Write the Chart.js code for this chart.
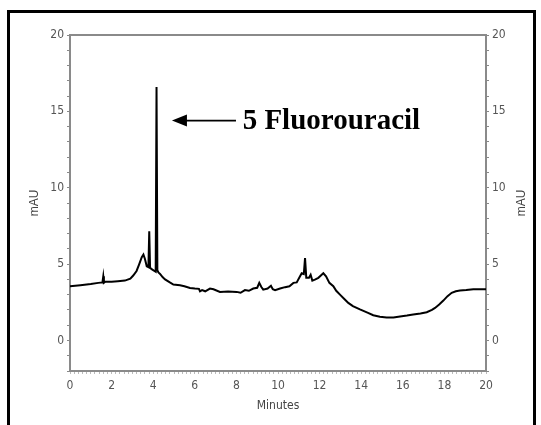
<!DOCTYPE html>
<html>
<head>
<meta charset="utf-8">
<script src="https://cdn.jsdelivr.net/npm/chart.js@4/dist/chart.umd.min.js"></script>
<style>
  html, body { margin: 0; padding: 0; background: #fff; }
  #wrap { position: relative; width: 541px; height: 425px; overflow: hidden; }
  #frame { position: absolute; left: 7px; top: 10px; width: 523px; height: 420px;
           border: 3px solid #000; border-bottom: none; pointer-events: none; }
</style>
</head>
<body>
<div id="wrap">
  <canvas id="c" width="541" height="425"></canvas>
  <div id="frame"></div>
</div>
<script>
// Retention time (minutes)
const times = [
  0.00, 0.50, 1.00, 1.36, 1.56, 1.60, 1.63, 1.70, 2.00, 2.30,
  2.64, 2.90, 3.04, 3.20, 3.32, 3.45, 3.53, 3.60, 3.69, 3.77,
  3.81, 3.85, 3.96, 4.12, 4.16, 4.20, 4.25, 4.33, 4.45,
  4.57, 4.80, 4.97, 5.29, 5.50, 5.77, 6.00, 6.20, 6.25, 6.35,
  6.50, 6.73, 6.90, 7.21, 7.60, 8.01, 8.20, 8.41, 8.60, 8.81,
  9.00, 9.10, 9.20, 9.29, 9.50, 9.66, 9.75, 9.86, 10.10, 10.34,
  10.55, 10.74, 10.90, 11.06, 11.14, 11.24, 11.30, 11.36, 11.49, 11.57,
  11.65, 11.80, 11.94, 12.10, 12.18, 12.31, 12.47, 12.66, 12.80, 12.98,
  13.20, 13.38, 13.60, 13.94, 14.30, 14.58, 14.90, 15.22, 15.55, 15.87,
  16.20, 16.50, 16.85, 17.15, 17.40, 17.55, 17.75, 17.95, 18.15, 18.35,
  18.55, 18.75, 19.05, 19.39, 19.70, 20.00
];
// Detector response (mAU)
const mau = [
  3.55, 3.62, 3.70, 3.77, 3.80, 4.20, 3.78, 3.85, 3.85, 3.88,
  3.92, 4.05, 4.25, 4.55, 4.97, 5.45, 5.62, 5.35, 4.86, 4.80,
  7.15, 4.75, 4.64, 4.50, 16.60, 4.60, 4.45, 4.36, 4.15,
  4.00, 3.80, 3.66, 3.62, 3.55, 3.44, 3.40, 3.38, 3.22, 3.30,
  3.22, 3.40, 3.35, 3.18, 3.20, 3.18, 3.12, 3.30, 3.25, 3.40,
  3.45, 3.77, 3.50, 3.33, 3.40, 3.58, 3.35, 3.29, 3.40, 3.49,
  3.55, 3.77, 3.80, 4.20, 4.40, 4.35, 5.40, 4.10, 4.10, 4.30,
  3.92, 4.00, 4.10, 4.30, 4.40, 4.20, 3.77, 3.55, 3.25, 3.00,
  2.70, 2.46, 2.25, 2.03, 1.82, 1.65, 1.55, 1.50, 1.50, 1.57,
  1.63, 1.70, 1.77, 1.85, 2.00, 2.13, 2.35, 2.61, 2.90, 3.12,
  3.22, 3.27, 3.30, 3.35, 3.36, 3.36
];
// Axis settings / labels
const xRange = [0, 20];
const yRange = [-2, 20];
const xLabelStep = 2;
const yLabelStep = 5;
const xTitle = "Minutes";
const yTitle = "mAU";
// Annotation
const annotationText = "5 Fluorouracil";
const arrowTip = { x: 4.9, y: 14.4 };
const arrowTail = { x: 7.98, y: 14.4 };
const textStart = { x: 8.3, y: 14.4 };

const points = times.map((t, i) => ({ x: t, y: mau[i] }));
const tickFont = { family: "'Liberation Sans Narrow', 'Arial Narrow', 'DejaVu Sans Condensed', sans-serif", size: 12 };
const tickColor = '#555';
const axisColor = '#8a8a8a';

function isMultiple(v, step) { return Math.abs(v - Math.round(v / step) * step) < 1e-6; }

const decorPlugin = {
  id: 'decor',
  beforeDatasetsDraw(chart) {
    const { ctx, chartArea: a } = chart;
    ctx.save();
    ctx.strokeStyle = axisColor;
    ctx.lineWidth = 2;
    ctx.beginPath();
    ctx.moveTo(a.left, a.top);
    ctx.lineTo(a.right, a.top);
    ctx.stroke();
    ctx.restore();
  },
  afterDraw(chart) {
    const { ctx } = chart;
    const xs = chart.scales.x, ys = chart.scales.y, y2 = chart.scales.y2;
    ctx.save();
    ctx.fillStyle = '#444';
    ctx.font = "12px 'Liberation Sans', Arial, sans-serif";
    ctx.textAlign = 'center';
    ctx.textBaseline = 'middle';
    ctx.translate(y2.right - 19, (ys.top + ys.bottom) / 2);
    ctx.rotate(-Math.PI / 2);
    ctx.fillText(yTitle, 0, 0);
    ctx.restore();

    const tipX = xs.getPixelForValue(arrowTip.x), tipY = ys.getPixelForValue(arrowTip.y);
    const tailX = xs.getPixelForValue(arrowTail.x);
    ctx.save();
    ctx.strokeStyle = '#000';
    ctx.fillStyle = '#000';
    ctx.lineWidth = 1.7;
    ctx.beginPath();
    ctx.moveTo(tailX, tipY);
    ctx.lineTo(tipX + 12, tipY);
    ctx.stroke();
    ctx.beginPath();
    ctx.moveTo(tipX, tipY);
    ctx.lineTo(tipX + 15, tipY - 6);
    ctx.lineTo(tipX + 15, tipY + 6);
    ctx.closePath();
    ctx.fill();
    ctx.font = "bold 29px 'Liberation Serif', 'Times New Roman', serif";
    ctx.textAlign = 'left';
    ctx.textBaseline = 'middle';
    ctx.fillText(annotationText, xs.getPixelForValue(textStart.x), ys.getPixelForValue(textStart.y) + 1);
    ctx.restore();
  }
};

new Chart(document.getElementById('c'), {
  type: 'line',
  data: {
    datasets: [{
      data: points,
      borderColor: '#000',
      borderWidth: 2,
      borderJoinStyle: 'miter',
      pointRadius: 0,
      tension: 0,
      fill: false,
      yAxisID: 'y'
    }]
  },
  options: {
    responsive: false,
    animation: false,
    events: [],
    layout: { padding: { top: 35, left: 0, right: 0, bottom: 0 } },
    plugins: { legend: { display: false }, tooltip: { enabled: false } },
    scales: {
      x: {
        type: 'linear',
        min: xRange[0], max: xRange[1],
        afterFit: s => { s.height = 54; },
        afterBuildTicks: s => {
          const t = [];
          for (let i = 0; i <= 100; i++) t.push({ value: xRange[0] + i * (xRange[1] - xRange[0]) / 100 });
          s.ticks = t;
        },
        ticks: {
          autoSkip: false, maxRotation: 0, color: tickColor, font: tickFont, padding: 5,
          callback: v => isMultiple(v, xLabelStep) ? String(Math.round(v)) : ''
        },
        grid: { drawOnChartArea: false, tickLength: 3, color: '#bbb', tickWidth: 1 },
        border: { color: axisColor, width: 2 },
        title: { display: true, text: xTitle, color: '#444',
                 font: { family: "'Liberation Sans Narrow', 'Arial Narrow', 'DejaVu Sans Condensed', sans-serif", size: 12 },
                 padding: { top: 0, bottom: 12 } }
      },
      y: {
        position: 'left',
        min: yRange[0], max: yRange[1],
        afterFit: s => { s.width = 70; },
        ticks: { stepSize: 1, autoSkip: false, color: tickColor, font: tickFont, padding: 3,
                 callback: v => isMultiple(v, yLabelStep) ? String(v) : '' },
        grid: { drawOnChartArea: false, tickLength: 3, color: '#888' },
        border: { color: axisColor, width: 2 },
        title: { display: true, text: yTitle, color: '#444',
                 font: { family: "'Liberation Sans', Arial, sans-serif", size: 12 },
                 padding: { top: 27, bottom: 0 } }
      },
      y2: {
        position: 'right',
        min: yRange[0], max: yRange[1],
        afterFit: s => { s.width = 55; },
        ticks: { stepSize: 1, autoSkip: false, color: tickColor, font: tickFont, padding: 3,
                 callback: v => isMultiple(v, yLabelStep) ? String(v) : '' },
        grid: { drawOnChartArea: false, tickLength: 3, color: '#888' },
        border: { color: axisColor, width: 2 }
      }
    }
  },
  plugins: [decorPlugin]
});
</script>
</body>
</html>
